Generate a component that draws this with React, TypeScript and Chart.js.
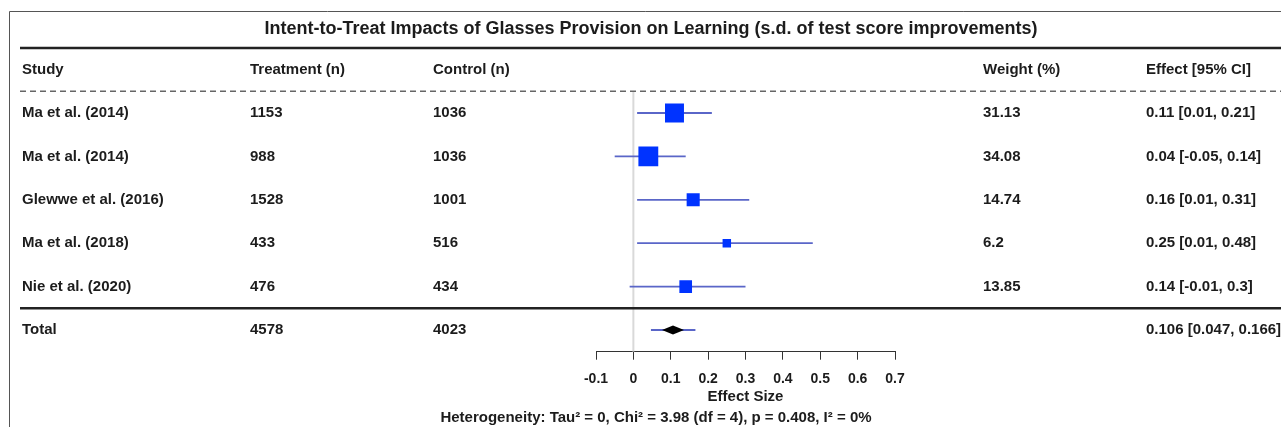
import React, { useEffect, useRef } from "react";
import { Chart, registerables } from "chart.js";

Chart.register(...registerables);

const chartTitle = "Intent-to-Treat Impacts of Glasses Provision on Learning (s.d. of test score improvements)";
const headers = ["Study", "Treatment (n)", "Control (n)", "Weight (%)", "Effect [95% CI]"];
const studies = ["Ma et al. (2014)", "Ma et al. (2014)", "Glewwe et al. (2016)", "Ma et al. (2018)", "Nie et al. (2020)"];
const treatmentN = [1153, 988, 1528, 433, 476];
const controlN = [1036, 1036, 1001, 516, 434];
const weights = [31.13, 34.08, 14.74, 6.2, 13.85];
const effects = [0.11, 0.04, 0.16, 0.25, 0.14];
const ciLow = [0.01, -0.05, 0.01, 0.01, -0.01];
const ciHigh = [0.21, 0.14, 0.31, 0.48, 0.3];
const totalLabel = "Total";
const totalTreatment = 4578;
const totalControl = 4023;
const totalEffect = 0.106;
const totalLow = 0.047;
const totalHigh = 0.166;
const xTicks = [-0.1, 0, 0.1, 0.2, 0.3, 0.4, 0.5, 0.6, 0.7];
const xAxisTitle = "Effect Size";
const heterogeneity = "Heterogeneity: Tau\u00B2 = 0, Chi\u00B2 = 3.98 (df = 4), p = 0.408, I\u00B2 = 0%";

const FONT = '"Liberation Sans", Arial, Helvetica, sans-serif';
const TEXT = "#1c1c1c";
const CI_COLOR = "#5a66c8";
const SQUARE_COLOR = "#0033ff";
const COL_X = [22, 250, 433, 983, 1146];

const tablePlugin = {
  id: "forestTable",
  afterDraw(chart: any) {
    const ctx = chart.ctx as CanvasRenderingContext2D;
    const y = chart.scales.y;
    const x = chart.scales.x;
    const W = chart.width;
    ctx.save();

    // outer frame
    ctx.strokeStyle = "#555";
    ctx.lineWidth = 1;
    ctx.beginPath();
    ctx.moveTo(9.5, chart.height + 5);
    ctx.lineTo(9.5, 11.5);
    ctx.lineTo(W + 5, 11.5);
    ctx.stroke();

    // title
    ctx.fillStyle = TEXT;
    ctx.textBaseline = "middle";
    ctx.textAlign = "center";
    ctx.font = `bold 18px ${FONT}`;
    ctx.fillText(chartTitle, 651, 29);

    // thick rule under title
    ctx.strokeStyle = "#222";
    ctx.lineWidth = 2.5;
    ctx.beginPath();
    ctx.moveTo(20, 48);
    ctx.lineTo(W, 48);
    ctx.stroke();

    // dashed rule under header
    const yDash = y.getPixelForValue(0.5);
    ctx.strokeStyle = "#666";
    ctx.lineWidth = 1.5;
    ctx.setLineDash([6, 4]);
    ctx.beginPath();
    ctx.moveTo(20, yDash);
    ctx.lineTo(W, yDash);
    ctx.stroke();
    ctx.setLineDash([]);

    // thick rule above total
    const yTot = y.getPixelForValue(studies.length + 0.5);
    ctx.strokeStyle = "#222";
    ctx.lineWidth = 2.5;
    ctx.beginPath();
    ctx.moveTo(20, yTot);
    ctx.lineTo(W, yTot);
    ctx.stroke();

    // header & rows
    ctx.textAlign = "left";
    ctx.font = `bold 15px ${FONT}`;
    const yh = y.getPixelForValue(0);
    headers.forEach((h, i) => ctx.fillText(h, COL_X[i], yh));
    studies.forEach((s, i) => {
      const yy = y.getPixelForValue(i + 1);
      ctx.fillText(s, COL_X[0], yy);
      ctx.fillText(String(treatmentN[i]), COL_X[1], yy);
      ctx.fillText(String(controlN[i]), COL_X[2], yy);
      ctx.fillText(String(weights[i]), COL_X[3], yy);
      ctx.fillText(`${effects[i]} [${ciLow[i]}, ${ciHigh[i]}]`, COL_X[4], yy);
    });
    const yt = y.getPixelForValue(studies.length + 1);
    ctx.fillText(totalLabel, COL_X[0], yt);
    ctx.fillText(String(totalTreatment), COL_X[1], yt);
    ctx.fillText(String(totalControl), COL_X[2], yt);
    ctx.fillText(`${totalEffect} [${totalLow}, ${totalHigh}]`, COL_X[4], yt);

    // diamond for pooled effect
    const cx = x.getPixelForValue(totalEffect);
    ctx.fillStyle = "#000";
    ctx.beginPath();
    ctx.moveTo(cx - 11, yt);
    ctx.lineTo(cx, yt - 4.5);
    ctx.lineTo(cx + 11, yt);
    ctx.lineTo(cx, yt + 4.5);
    ctx.closePath();
    ctx.fill();

    // heterogeneity note
    ctx.fillStyle = TEXT;
    ctx.textAlign = "center";
    ctx.font = `bold 15px ${FONT}`;
    ctx.fillText(heterogeneity, 656, 418);

    ctx.restore();
  },
};

export default function App() {
  const ref = useRef<HTMLCanvasElement | null>(null);

  useEffect(() => {
    if (!ref.current) return;
    const nRows = studies.length + 1;

    const ciDatasets: any[] = studies.map((s, i) => ({
      type: "line",
      label: `${s} CI`,
      data: [
        { x: ciLow[i], y: i + 1 },
        { x: ciHigh[i], y: i + 1 },
      ],
      borderColor: CI_COLOR,
      borderWidth: 1.8,
      pointRadius: 0,
      order: 2,
    }));
    ciDatasets.push({
      type: "line",
      label: "Total CI",
      data: [
        { x: totalLow, y: nRows },
        { x: totalHigh, y: nRows },
      ],
      borderColor: CI_COLOR,
      borderWidth: 1.8,
      pointRadius: 0,
      order: 2,
    });

    const chart = new Chart(ref.current, {
      type: "scatter",
      data: {
        datasets: [
          {
            type: "scatter",
            label: "Effect",
            data: effects.map((e, i) => ({ x: e, y: i + 1 })),
            pointStyle: "rect",
            pointRadius: weights.map((w) => (3.4 * Math.sqrt(w)) / Math.SQRT2),
            pointHoverRadius: weights.map((w) => (3.4 * Math.sqrt(w)) / Math.SQRT2),
            backgroundColor: SQUARE_COLOR,
            borderColor: SQUARE_COLOR,
            borderWidth: 0,
            order: 1,
          } as any,
          ...ciDatasets,
          {
            type: "line",
            label: "Null",
            data: [
              { x: 0, y: 0.5 },
              { x: 0, y: nRows + 0.5 },
            ],
            borderColor: "#d9d9d9",
            borderWidth: 2,
            pointRadius: 0,
            order: 3,
          } as any,
        ],
      },
      options: {
        animation: false,
        responsive: false,
        maintainAspectRatio: false,
        events: [],
        layout: { padding: { left: 596, right: 386, top: 91.3, bottom: 15.3 } },
        plugins: { legend: { display: false }, tooltip: { enabled: false }, title: { display: false } },
        scales: {
          x: {
            type: "linear",
            min: -0.1,
            max: 0.7,
            afterBuildTicks: (s: any) => {
              s.ticks = xTicks.map((v) => ({ value: v }));
            },
            afterFit: (s: any) => {
              s.height = 60;
            },
            ticks: {
              autoSkip: false,
              maxRotation: 0,
              padding: 11,
              color: TEXT,
              font: { family: FONT, size: 14, weight: "bold" },
              callback: (v: any) => String(Number(Number(v).toFixed(2))),
            },
            grid: { drawOnChartArea: false, drawTicks: true, tickLength: 8, tickColor: "#333", tickWidth: 1 },
            border: { display: true, color: "#333", width: 1 },
            title: {
              display: true,
              text: xAxisTitle,
              color: TEXT,
              font: { family: FONT, size: 15, weight: "bold" },
              padding: { top: 0, bottom: 6 },
            },
          },
          y: {
            type: "linear",
            reverse: true,
            min: 0.5,
            max: nRows + 0.5,
            display: false,
          },
        },
      } as any,
      plugins: [tablePlugin],
    });
    return () => chart.destroy();
  }, []);

  return (
    <div style={{ position: "absolute", left: 0, top: 0, width: 1281, height: 427, background: "#fff" }}>
      <canvas ref={ref} width={1281} height={427} style={{ display: "block" }} />
    </div>
  );
}
